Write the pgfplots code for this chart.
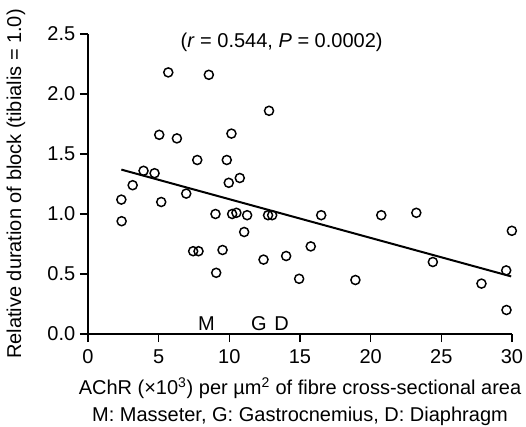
\documentclass[border=0pt]{standalone}
\usepackage{fontspec}
\setmainfont{Liberation Sans}
\usepackage{pgfplots}
\pgfplotsset{compat=1.18}

\begin{document}
\begin{tikzpicture}[x=0.75pt,y=0.75pt]
\begin{axis}[
    name=ax, at={(0,0)}, anchor=south west,
    scale only axis, width=318pt, height=225pt,
    xmin=0, xmax=30, ymin=0, ymax=2.5,
    axis lines=left, axis line style={-, line width=1.4pt},
    tick align=outside, major tick length=6pt,
    tick style={line width=1pt, black},
    xtick={0,5,...,30}, ytick={0,0.5,...,2.5},
    yticklabel style={/pgf/number format/.cd, fixed, fixed zerofill, precision=1},
    /pgf/number format/assume math mode=true,
    font=\fontsize{15}{17}\selectfont,
    xticklabel style={yshift=-2pt},
    xlabel={AChR (×10\textsuperscript{3}) per µm\textsuperscript{2} of fibre cross-sectional area\\[3pt]M: Masseter, G: Gastrocnemius, D: Diaphragm},
    xlabel style={align=center, yshift=-4pt},
    ylabel={Relative duration of block (tibialis = 1.0)},
    ylabel style={at={(axis description cs:-0.17,0.5)}, anchor=center},
    clip=false,
]
\addplot[only marks, mark=o, mark size=3.4pt, mark options={line width=1.1pt}] coordinates {
 (5.68,2.18) (8.55,2.16) (12.81,1.86) (5.04,1.66) (6.29,1.63) (10.15,1.67)
 (7.73,1.45) (9.82,1.45) (3.93,1.36) (4.71,1.34) (10.74,1.30) (9.96,1.26)
 (3.16,1.24) (6.95,1.17) (2.36,1.12) (5.18,1.10) (2.38,0.94) (9.02,1.00)
 (10.20,1.00) (10.50,1.01) (11.26,0.99) (12.74,0.99) (13.03,0.99) (11.05,0.85)
 (7.44,0.69) (7.82,0.69) (9.52,0.70) (12.42,0.62) (14.02,0.65) (15.76,0.73)
 (9.07,0.51) (14.94,0.46) (16.50,0.99) (20.75,0.99) (23.23,1.01) (29.99,0.86)
 (24.40,0.60) (29.59,0.53) (18.92,0.45) (27.84,0.42) (29.61,0.20)
};
\addplot[line width=1.5pt] coordinates {(2.36,1.37) (29.94,0.48)};
\node at (axis cs:13.7,2.43) {(\textit{r} = 0.544, \textit{P} = 0.0002)};
\node at (axis cs:8.39,0.09) {M};
\node at (axis cs:12.1,0.09) {G};
\node at (axis cs:13.7,0.09) {D};
\end{axis}
\pgfresetboundingbox
\path[use as bounding box] (-88,-92) rectangle (438,334);
\end{tikzpicture}
\end{document}
